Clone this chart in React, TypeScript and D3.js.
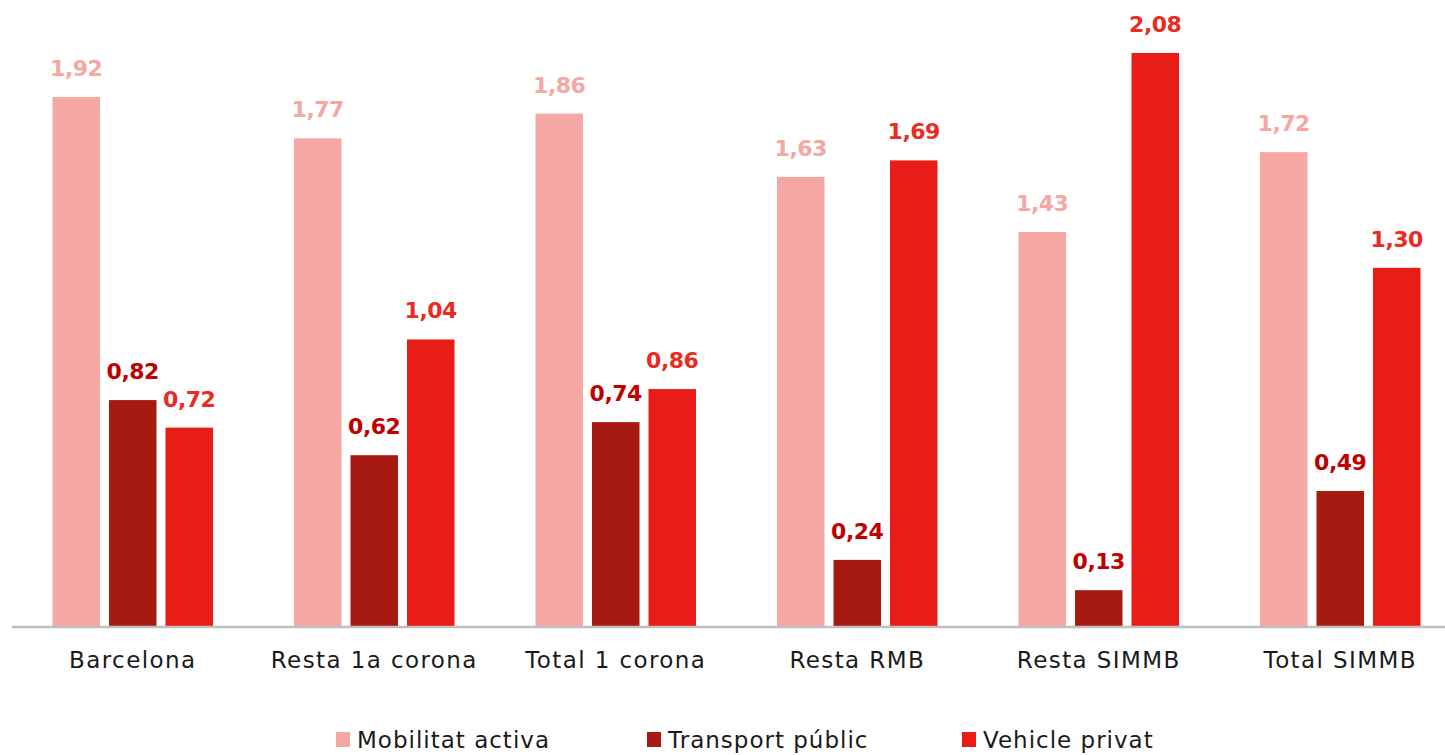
import React from "react";
import * as d3 from "d3";

const categories = ["Barcelona", "Resta 1a corona", "Total 1 corona", "Resta RMB", "Resta SIMMB", "Total SIMMB"];
const seriesNames = ["Mobilitat activa", "Transport públic", "Vehicle privat"];
const mobilitatActiva = [1.92, 1.77, 1.86, 1.63, 1.43, 1.72];
const transportPublic = [0.82, 0.62, 0.74, 0.24, 0.13, 0.49];
const vehiclePrivat = [0.72, 1.04, 0.86, 1.69, 2.08, 1.3];

const seriesValues = [mobilitatActiva, transportPublic, vehiclePrivat];
const barColors = ["#F5A7A3", "#A61A12", "#E91C17"];
const labelColors = ["#F5A7A3", "#C00000", "#EA2B24"];

const W = 1445;
const H = 755;
const FONT = "'DejaVu Sans', sans-serif";

export default function App() {
  const x0 = d3.scaleBand<string>().domain(categories).range([12, 12 + 6 * 241.5]).padding(0);
  const x1 = d3
    .scaleBand<string>()
    .domain(seriesNames)
    .range([0, x0.bandwidth()])
    .paddingInner(9 / 56.5)
    .paddingOuter(0.717);
  const y = d3.scaleLinear().domain([0, 2]).range([626, 75]);
  const fmt = (v: number) => d3.format(".2f")(v).replace(".", ",");

  const legendX = [336, 647, 962];

  return (
    <svg
      width={W}
      height={H}
      style={{ position: "absolute", left: 0, top: 0, background: "#fff" }}
      fontFamily={FONT}
    >
      {categories.map((c, i) => (
        <g key={c}>
          {seriesNames.map((s, j) => {
            const v = seriesValues[j][i];
            const bx = (x0(c) as number) + (x1(s) as number);
            return (
              <g key={s}>
                <rect x={bx} y={y(v)} width={x1.bandwidth()} height={y(0) - y(v)} fill={barColors[j]} />
                <text
                  x={bx + x1.bandwidth() / 2}
                  y={y(v) - 21}
                  textAnchor="middle"
                  fontSize={22}
                  fontWeight="bold"
                  letterSpacing={-0.5}
                  fill={labelColors[j]}
                >
                  {fmt(v)}
                </text>
              </g>
            );
          })}
          <text
            x={(x0(c) as number) + x0.bandwidth() / 2}
            y={668}
            textAnchor="middle"
            fontSize={23}
            letterSpacing={1.4}
            fill="#1a1a1a"
          >
            {c}
          </text>
        </g>
      ))}
      <line x1={12} x2={W} y1={627} y2={627} stroke="#BFBFBF" strokeWidth={2.5} />
      {seriesNames.map((s, j) => (
        <g key={s}>
          <rect x={legendX[j]} y={732} width={14} height={15} fill={barColors[j]} />
          <text x={legendX[j] + 21} y={748} fontSize={23} letterSpacing={1} fill="#1a1a1a">
            {s}
          </text>
        </g>
      ))}
    </svg>
  );
}
